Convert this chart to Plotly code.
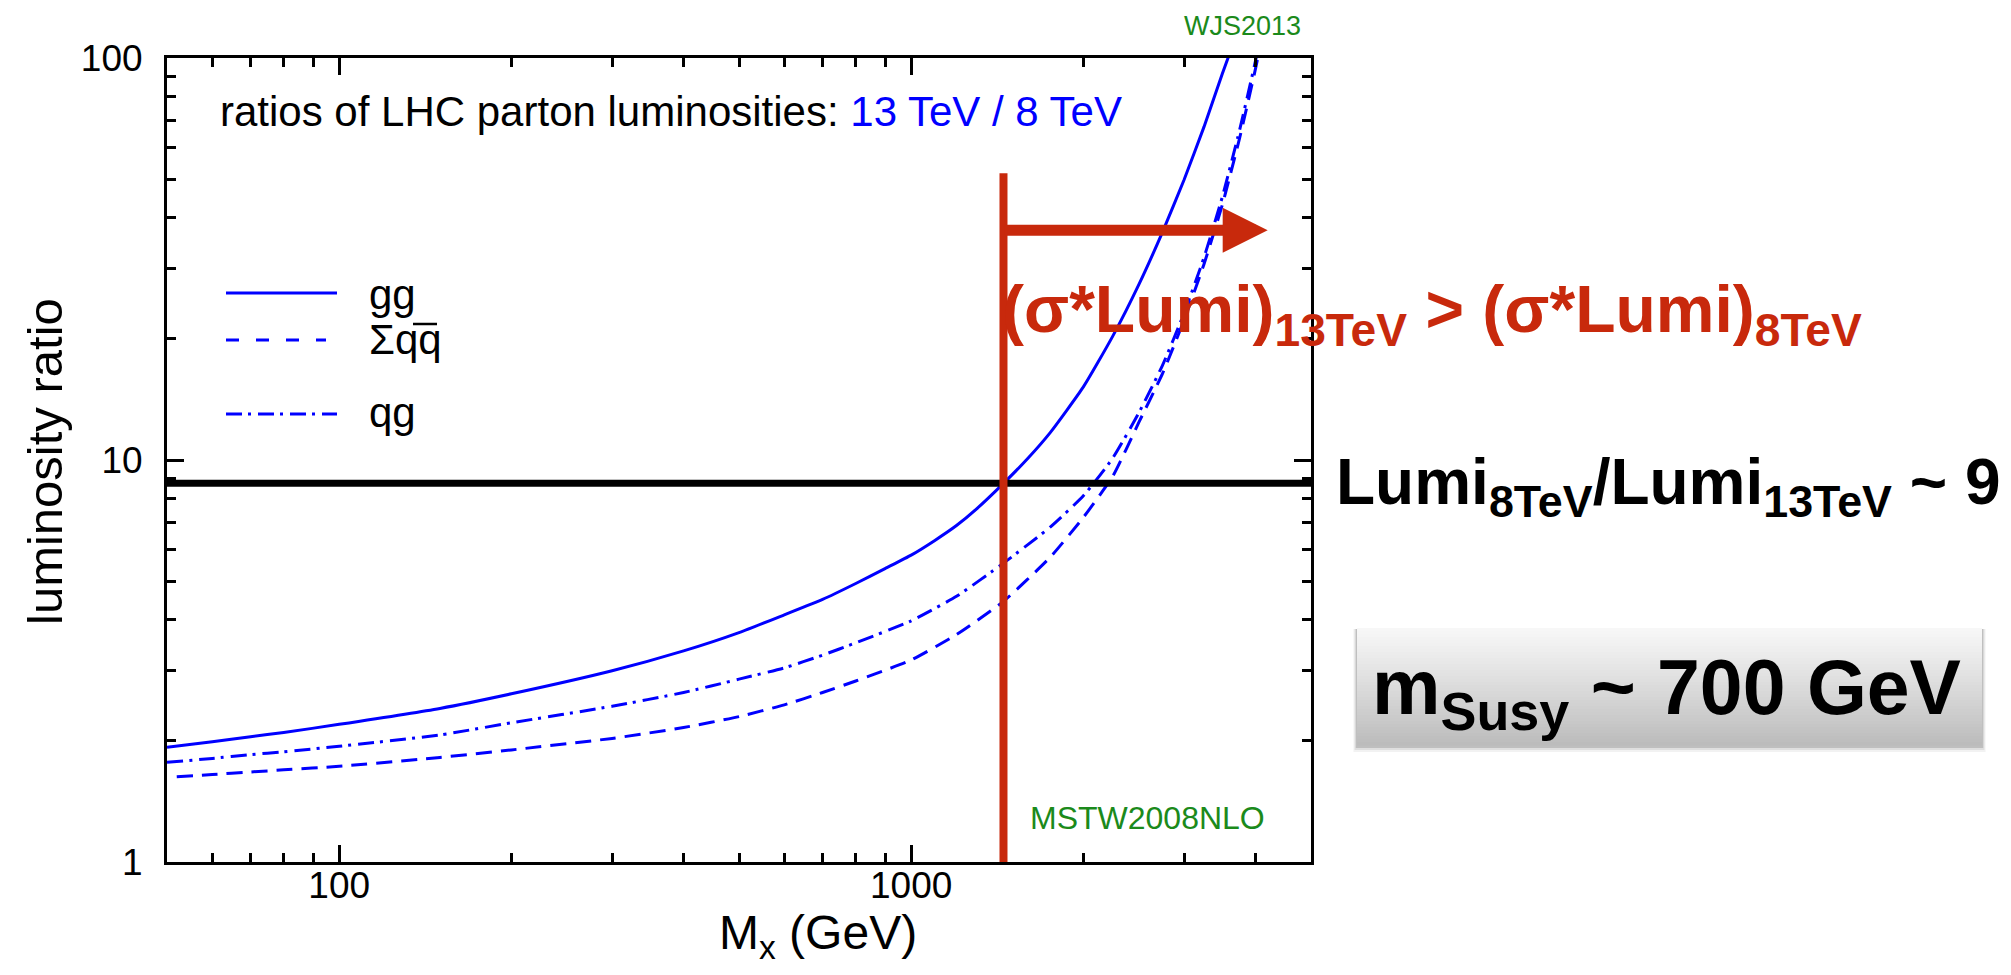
import numpy as np
import plotly.graph_objects as go

# ---------------- data ----------------
mass_gg = [50, 60, 70, 80, 100, 150, 200, 300, 400, 500, 600, 700, 800, 900, 1000,
           1100, 1200, 1300, 1450, 1600, 1750, 2000, 2250, 2500, 2750, 3000, 3250, 3500, 3750]
ratio_gg = [1.93, 1.99, 2.05, 2.10, 2.20, 2.41, 2.62, 2.99, 3.35, 3.72, 4.12, 4.50, 4.93, 5.37, 5.80,
            6.31, 6.87, 7.55, 8.75, 10.1, 11.7, 15.2, 20.3, 27.3, 36.9, 49.8, 67.4, 91.5, 120]

mass_qqbar = [52, 60, 70, 80, 100, 150, 200, 300, 400, 500, 600, 700, 800, 1000,
              1200, 1450, 1750, 2000, 2250, 2500, 2750, 3000, 3250, 3500, 3750, 4000, 4250]
ratio_qqbar = [1.63, 1.65, 1.675, 1.695, 1.73, 1.82, 1.90, 2.03, 2.16, 2.30, 2.46, 2.64, 2.82, 3.18,
               3.68, 4.45, 5.73, 7.20, 9.10, 12.4, 16.4, 22.3, 30.7, 43.2, 63.1, 94.2, 144]

mass_qg = [50, 60, 70, 80, 100, 150, 200, 300, 400, 500, 600, 700, 800, 1000,
           1200, 1450, 1750, 2000, 2250, 2500, 2750, 3000, 3250, 3500, 3750, 4000, 4250]
ratio_qg = [1.77, 1.81, 1.85, 1.88, 1.94, 2.07, 2.22, 2.44, 2.64, 2.85, 3.04, 3.27, 3.51, 3.98,
            4.58, 5.54, 6.81, 8.15, 10.1, 13.1, 17.2, 23.2, 31.9, 45.2, 66.1, 98.6, 151]

x_range_gev = [50, 5000]
y_range_ratio = [1, 100]
x_major_ticks = [100, 1000]
x_minor_ticks = [60, 70, 80, 90, 200, 300, 400, 500, 600, 700, 800, 900, 2000, 3000, 4000]
y_major_ticks = [1, 10, 100]
y_minor_ticks = [2, 3, 4, 5, 6, 7, 8, 9, 20, 30, 40, 50, 60, 70, 80, 90]

lumi_ratio_8_over_13 = 8.75      # horizontal black line
m_threshold_gev = 1450           # vertical red line
threshold_line_top = 51.7        # top of red line (ratio units)
arrow_ratio = 37.3               # height of red arrow
arrow_end_gev = 4200             # end of red arrow

# ---------------- styles ----------------
BLUE = "#0000ff"
RED = "#c8290c"
GREEN = "#1b8a1b"
FONT = "Liberation Sans, Arial, sans-serif"

W, H = 2011, 975
L, R, T, B = 167, 1311, 58, 862


def px(X):
    return (X - L) / (R - L)


def py(Y):
    return (B - Y) / (B - T)


fig = go.Figure()

fig.add_trace(go.Scatter(x=mass_gg, y=ratio_gg, mode="lines",
                         line=dict(color=BLUE, width=3, shape="spline", smoothing=0.5),
                         showlegend=False, hoverinfo="skip"))
fig.add_trace(go.Scatter(x=mass_qqbar, y=ratio_qqbar, mode="lines",
                         line=dict(color=BLUE, width=3, dash="16px,9px", shape="spline", smoothing=0.5),
                         showlegend=False, hoverinfo="skip"))
fig.add_trace(go.Scatter(x=mass_qg, y=ratio_qg, mode="lines",
                         line=dict(color=BLUE, width=3, dash="16px,6px,3px,7px", shape="spline", smoothing=0.5),
                         showlegend=False, hoverinfo="skip"))

# horizontal black line
fig.add_trace(go.Scatter(x=x_range_gev, y=[lumi_ratio_8_over_13] * 2, mode="lines",
                         line=dict(color="black", width=7), showlegend=False, hoverinfo="skip"))
# vertical red line
fig.add_trace(go.Scatter(x=[m_threshold_gev] * 2, y=[y_range_ratio[0], threshold_line_top], mode="lines",
                         line=dict(color=RED, width=8), showlegend=False, hoverinfo="skip"))

axis_common = dict(
    type="log", showgrid=False, zeroline=False, showline=True, linewidth=3, linecolor="black",
    mirror="ticks", ticks="inside", ticklen=17, tickwidth=2.5, tickcolor="black",
    tickfont=dict(family=FONT, size=37, color="black"),
)

fig.update_xaxes(range=[np.log10(x_range_gev[0]), np.log10(x_range_gev[1])],
                 tickvals=x_major_ticks, ticktext=[str(v) for v in x_major_ticks],
                 ticklabelstandoff=-11,
                 minor=dict(tickvals=x_minor_ticks, ticks="inside", ticklen=9, tickwidth=2.5,
                            tickcolor="black", showgrid=False),
                 **axis_common)
fig.update_yaxes(range=[np.log10(y_range_ratio[0]), np.log10(y_range_ratio[1])],
                 tickvals=y_major_ticks, ticktext=[str(v) for v in y_major_ticks],
                 ticklabelstandoff=14,
                 minor=dict(tickvals=y_minor_ticks, ticks="inside", ticklen=9, tickwidth=2.5,
                            tickcolor="black", showgrid=False),
                 **axis_common)

shapes = []
# legend samples
shapes.append(dict(type="line", xref="paper", yref="paper", x0=px(226), x1=px(337), y0=py(293), y1=py(293),
                   line=dict(color=BLUE, width=3)))
shapes.append(dict(type="line", xref="paper", yref="paper", x0=px(226), x1=px(326), y0=py(340), y1=py(340),
                   line=dict(color=BLUE, width=3, dash="13px,17px")))
shapes.append(dict(type="line", xref="paper", yref="paper", x0=px(226), x1=px(337), y0=py(414), y1=py(414),
                   line=dict(color=BLUE, width=3, dash="16px,6px,3px,7px")))
# overline on q-bar
shapes.append(dict(type="line", xref="paper", yref="paper", x0=px(413), x1=px(437), y0=py(324), y1=py(324),
                   line=dict(color="black", width=2.5)))

# mSusy box: shadow + vertical gradient
bx0, bx1, by0, by1 = 1357, 1982, 628, 745
for grow, alpha in [(6, 0.05), (4, 0.08), (2, 0.14)]:
    shapes.append(dict(type="rect", xref="paper", yref="paper",
                       x0=px(bx0 - grow * 0.6), x1=px(bx1 + grow * 0.6),
                       y0=py(by0 + 1), y1=py(by1 + grow + 1),
                       line=dict(width=0), fillcolor=f"rgba(0,0,0,{alpha})"))
nb = 39
for i in range(nb):
    y0 = by0 + (by1 - by0) * i / nb
    y1 = by0 + (by1 - by0) * (i + 1) / nb
    t = i / (nb - 1)
    g = int(round(247 - (247 - 188) * t ** 1.1))
    shapes.append(dict(type="rect", xref="paper", yref="paper", x0=px(bx0), x1=px(bx1),
                       y0=py(y0), y1=py(y1 + 0.6), line=dict(width=0), fillcolor=f"rgb({g},{g},{g})"))

ann = []
ann.append(dict(xref="paper", yref="paper", x=px(218), y=py(112), xanchor="left", yanchor="middle",
                text="ratios of LHC parton luminosities: <span style='color:#0000ff'>13 TeV / 8 TeV</span>",
                showarrow=False, font=dict(family=FONT, size=42, color="black")))
for label, yy in [("gg", 294), ("\u03a3qq", 339), ("qg", 412)]:
    ann.append(dict(xref="paper", yref="paper", x=px(367), y=py(yy), xanchor="left", yanchor="middle",
                    text=label, showarrow=False, font=dict(family=FONT, size=42, color="black")))
ann.append(dict(xref="paper", yref="paper", x=px(1242), y=py(26), xanchor="center", yanchor="middle",
                text="WJS2013", showarrow=False, font=dict(family=FONT, size=27, color=GREEN)))
ann.append(dict(xref="paper", yref="paper", x=px(1147), y=py(818), xanchor="center", yanchor="middle",
                text="MSTW2008NLO", showarrow=False, font=dict(family=FONT, size=32, color=GREEN)))
ann.append(dict(xref="paper", yref="paper", x=px(45), y=py(462), xanchor="center", yanchor="middle",
                text="luminosity ratio", textangle=-90, showarrow=False,
                font=dict(family=FONT, size=49, color="black")))
ann.append(dict(xref="paper", yref="paper", x=px(818), y=py(936), xanchor="center", yanchor="middle",
                text="M<sub>x</sub> (GeV)", showarrow=False, font=dict(family=FONT, size=48, color="black")))
# red arrow
ann.append(dict(xref="x", yref="y", axref="x", ayref="y",
                x=np.log10(arrow_end_gev), y=np.log10(arrow_ratio),
                ax=np.log10(m_threshold_gev), ay=np.log10(arrow_ratio),
                text="", showarrow=True, arrowhead=2, arrowwidth=11, arrowsize=9 / 11,
                arrowcolor=RED, standoff=0))
ann.append(dict(xref="paper", yref="paper", x=px(1000), y=py(314), xanchor="left", yanchor="middle",
                text="<b>(\u03c3*Lumi)<sub>13TeV</sub> &gt; (\u03c3*Lumi)<sub>8TeV</sub></b>",
                showarrow=False, font=dict(family=FONT, size=66, color=RED)))
ann.append(dict(xref="paper", yref="paper", x=px(1334), y=py(486), xanchor="left", yanchor="middle",
                text="<b>Lumi<sub>8TeV</sub>/Lumi<sub>13TeV</sub> ~ 9</b>",
                showarrow=False, font=dict(family=FONT, size=64, color="black")))
ann.append(dict(xref="paper", yref="paper", x=px(1666), y=py(692), xanchor="center", yanchor="middle",
                text="<b>m<sub>Susy</sub> ~ 700 GeV</b>",
                showarrow=False, font=dict(family=FONT, size=77, color="black")))

fig.update_layout(
    width=W, height=H, autosize=False,
    margin=dict(l=L, r=W - R, t=T, b=H - B, pad=0),
    paper_bgcolor="white", plot_bgcolor="white",
    showlegend=False, shapes=shapes, annotations=ann,
    font=dict(family=FONT, color="black"),
)

fig.write_html("out.html", config={"displayModeBar": False},
               post_script="document.body.style.margin='0';document.body.style.overflow='hidden';")
